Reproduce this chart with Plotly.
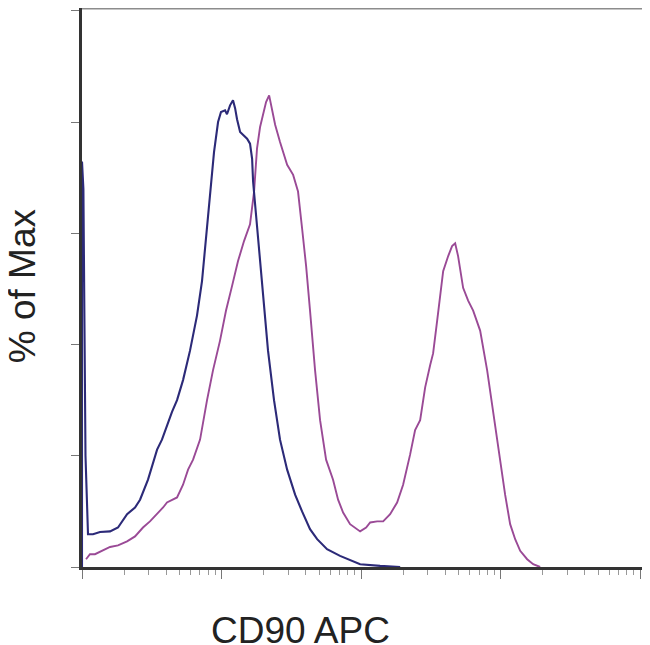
import plotly.graph_objects as go

# CD90 APC intensity, stored as log10 values (decades), and % of Max
blue_log_x = [2.000, 2.000, 2.010, 2.025, 2.043, 2.079, 2.129, 2.201, 2.258, 2.323, 2.380, 2.416,
              2.473, 2.538, 2.573, 2.609, 2.645, 2.681, 2.724, 2.774, 2.824, 2.860, 2.889, 2.918,
              2.946, 2.975, 2.996, 3.025, 3.039, 3.061, 3.082, 3.097, 3.111, 3.133, 3.154, 3.183,
              3.204, 3.219, 3.226, 3.247, 3.269, 3.297, 3.333, 3.376, 3.419, 3.470, 3.527, 3.577,
              3.634, 3.685, 3.756, 3.849, 3.993, 4.136, 4.280]
blue_pct = [0.0, 72.9, 68.0, 20.0, 5.9, 5.9, 6.3, 6.4, 7.1, 9.5, 10.7, 12.1,
            15.7, 21.1, 22.9, 25.5, 27.9, 30.0, 33.6, 38.9, 45.2, 51.4, 59.5, 67.5,
            74.6, 80.0, 81.8, 82.1, 81.4, 83.0, 83.9, 82.5, 80.5, 78.2, 77.7, 77.0,
            76.1, 73.4, 69.3, 63.4, 56.8, 49.6, 38.9, 30.0, 22.9, 17.5, 13.0, 10.0,
            6.8, 5.0, 3.2, 2.0, 0.5, 0.2, 0.0]

magenta_log_x = [2.029, 2.057, 2.093, 2.143, 2.201, 2.258, 2.323, 2.380, 2.437, 2.487, 2.538, 2.581,
                 2.609, 2.645, 2.681, 2.724, 2.760, 2.796, 2.846, 2.896, 2.939, 2.989, 3.032, 3.075,
                 3.118, 3.161, 3.204, 3.233, 3.254, 3.276, 3.297, 3.319, 3.341, 3.362, 3.384, 3.419,
                 3.448, 3.470, 3.513, 3.548, 3.577, 3.606, 3.634, 3.670, 3.706, 3.749, 3.799, 3.835,
                 3.871, 3.921, 3.993, 4.036, 4.065, 4.115, 4.158, 4.208, 4.258, 4.301, 4.351, 4.387,
                 4.423, 4.459, 4.495, 4.516, 4.545, 4.566, 4.588, 4.624, 4.652, 4.674, 4.695, 4.731,
                 4.767, 4.803, 4.853, 4.903, 4.946, 4.996, 5.032, 5.068, 5.104, 5.140, 5.190, 5.233,
                 5.283]
magenta_pct = [1.4, 2.3, 2.3, 2.9, 3.6, 3.9, 4.6, 5.5, 7.1, 8.2, 9.5, 10.7,
               11.6, 12.1, 12.5, 14.8, 17.5, 19.3, 22.9, 30.0, 35.4, 40.7, 46.1, 50.5,
               55.0, 58.6, 61.6, 67.5, 75.2, 79.1, 81.3, 83.6, 84.8, 82.1, 79.5, 76.4,
               74.3, 72.3, 70.5, 67.5, 60.9, 54.1, 46.1, 35.4, 26.4, 19.3, 15.7, 12.1,
               9.8, 7.7, 6.4, 7.1, 8.0, 8.2, 8.2, 9.5, 11.6, 14.8, 20.2, 24.6,
               26.4, 32.3, 36.3, 38.4, 44.3, 49.1, 53.2, 55.9, 57.7, 58.2, 55.9, 50.2,
               47.9, 46.1, 42.5, 35.4, 27.7, 19.3, 13.0, 7.7, 5.0, 2.9, 1.4, 0.5,
               0.0]

y_tick_vals = [0, 20, 40, 60, 80, 100]
x_decades = [100, 1000, 10000, 100000, 1000000]
x_minor_digits = [2, 3, 4, 5, 6, 7, 8, 9]
x_minor_vals = [d * m for d in x_decades[:-1] for m in x_minor_digits]

fig = go.Figure()
fig.add_trace(go.Scatter(x=[10 ** v for v in magenta_log_x], y=magenta_pct, mode="lines",
                         line=dict(color="#9a4a96", width=1.9), showlegend=False))
fig.add_trace(go.Scatter(x=[10 ** v for v in blue_log_x], y=blue_pct, mode="lines",
                         line=dict(color="#2c2a78", width=2.1), showlegend=False))

fig.update_layout(
    width=642, height=637,
    margin=dict(l=74, r=7, t=0, b=78),
    paper_bgcolor="white", plot_bgcolor="white",
    font=dict(family="Liberation Sans, Arial, sans-serif", color="#222"),
    xaxis=dict(type="log", range=[2, 6.02], showgrid=False, zeroline=False,
               showticklabels=False, tickvals=x_decades, ticks="outside", ticklen=9,
               tickcolor="#777", tickwidth=1.2,
               showline=True, linecolor="#333", linewidth=2.5,
               minor=dict(tickvals=x_minor_vals, ticks="outside", ticklen=5,
                          tickcolor="#999", tickwidth=1, showgrid=False)),
    yaxis=dict(range=[0, 100.5], showgrid=False, zeroline=False, showticklabels=False,
               tickvals=y_tick_vals, ticks="outside", ticklen=8, tickcolor="#777", tickwidth=1.2,
               showline=True, linecolor="#333", linewidth=2.5),
    shapes=[
        dict(type="line", xref="paper", yref="paper", x0=0, x1=1, y0=1, y1=1,
             line=dict(color="#8c8c8c", width=3)),
        dict(type="line", xref="paper", yref="paper", x0=1, x1=1, y0=0, y1=1,
             line=dict(color="#555", width=2)),
    ],
    annotations=[
        dict(text="CD90 APC", xref="paper", yref="paper", x=0.3886, y=-0.113,
             xanchor="center", yanchor="middle", showarrow=False,
             font=dict(size=37, color="#222")),
        dict(text="% of Max", xref="paper", yref="paper", x=-0.107, y=0.504,
             xanchor="center", yanchor="middle", showarrow=False, textangle=-90,
             font=dict(size=37, color="#222")),
    ],
)

fig.write_html("out.html")
